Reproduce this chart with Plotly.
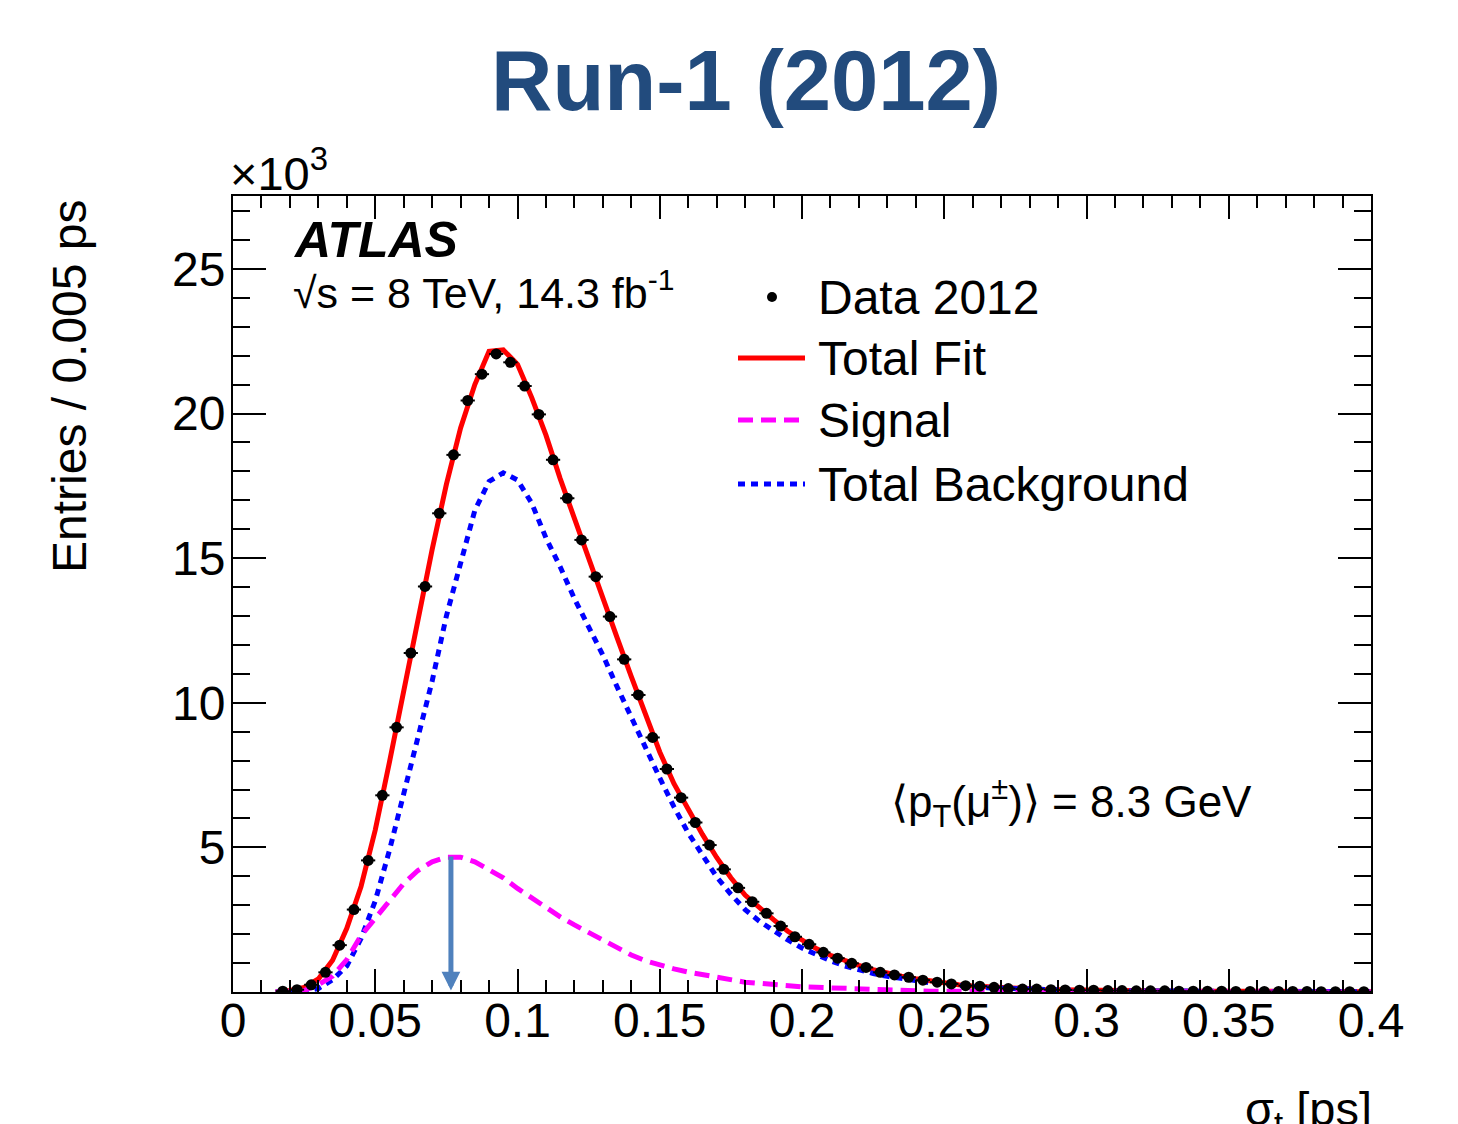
import numpy as np
import plotly.graph_objects as go

# ---------------- data (values in units of 10^3 entries) ----------------
bin_width = 0.005
data_x = [round(0.0175 + i * bin_width, 4) for i in range(77)]
data_y = [0.03, 0.08, 0.25, 0.68, 1.62, 2.85, 4.55, 6.80, 9.15, 11.72,
          14.02, 16.55, 18.57, 20.45, 21.36, 22.06, 21.77, 20.95, 19.97, 18.40,
          17.07, 15.63, 14.36, 12.98, 11.50, 10.27, 8.80, 7.71, 6.72, 5.86,
          5.08, 4.24, 3.60, 3.12, 2.72, 2.28, 1.91, 1.65, 1.37, 1.17,
          0.99, 0.85, 0.68, 0.59, 0.51, 0.41, 0.34, 0.28, 0.22, 0.20,
          0.16, 0.12, 0.10, 0.10, 0.08, 0.07, 0.06, 0.06, 0.05, 0.05,
          0.04, 0.04, 0.04, 0.03, 0.03, 0.03, 0.03, 0.02, 0.02, 0.02,
          0.02, 0.02, 0.02, 0.01, 0.01, 0.01, 0.01]

curve_x = [round(0.015 + i * bin_width, 4) for i in range(78)]
fit_y = [0.00, 0.05, 0.16, 0.45, 1.10, 2.20, 3.65, 5.60, 7.95, 10.45,
         12.90, 15.30, 17.55, 19.50, 21.00, 22.15, 22.20, 21.70, 20.55, 19.25,
         17.75, 16.35, 15.00, 13.65, 12.25, 10.90, 9.55, 8.30, 7.20, 6.30,
         5.45, 4.65, 3.95, 3.35, 2.90, 2.50, 2.10, 1.78, 1.50, 1.27,
         1.08, 0.92, 0.77, 0.64, 0.55, 0.46, 0.38, 0.31, 0.25, 0.21,
         0.18, 0.15, 0.12, 0.10, 0.09, 0.08, 0.07, 0.06, 0.05, 0.05,
         0.04, 0.04, 0.04, 0.03, 0.03, 0.03, 0.03, 0.02, 0.02, 0.02,
         0.02, 0.02, 0.02, 0.02, 0.01, 0.01, 0.01, 0.01]
bkg_y = [0.00, 0.00, 0.01, 0.12, 0.42, 0.90, 1.85, 3.15, 4.90, 6.85,
         8.75, 10.75, 13.00, 14.90, 16.65, 17.65, 17.95, 17.70, 16.90, 15.70,
         14.70, 13.60, 12.65, 11.65, 10.55, 9.45, 8.45, 7.40, 6.40, 5.50,
         4.70, 3.98, 3.38, 2.85, 2.45, 2.10, 1.80, 1.52, 1.28, 1.08,
         0.90, 0.76, 0.64, 0.54, 0.46, 0.39, 0.32, 0.27, 0.22, 0.18,
         0.15, 0.13, 0.11, 0.09, 0.08, 0.07, 0.06, 0.05, 0.04, 0.04,
         0.04, 0.03, 0.03, 0.03, 0.03, 0.02, 0.02, 0.02, 0.02, 0.02,
         0.02, 0.02, 0.01, 0.01, 0.01, 0.01, 0.01, 0.01]
sig_y = [0.00, 0.00, 0.05, 0.25, 0.55, 1.12, 1.95, 2.55, 3.15, 3.75,
         4.20, 4.50, 4.66, 4.66, 4.50, 4.20, 3.95, 3.58, 3.25, 2.92,
         2.60, 2.32, 2.06, 1.78, 1.50, 1.28, 1.08, 0.93, 0.80, 0.69,
         0.60, 0.50, 0.40, 0.34, 0.30, 0.25, 0.21, 0.18, 0.16, 0.14,
         0.12, 0.09, 0.07, 0.06, 0.05, 0.04, 0.03, 0.03, 0.02, 0.02,
         0.02, 0.02, 0.02, 0.02, 0.01, 0.01, 0.01, 0.01, 0.01, 0.01,
         0.01, 0.01, 0.01, 0.00, 0.00, 0.00, 0.00, 0.00, 0.00, 0.00,
         0.00, 0.00, 0.00, 0.00, 0.00, 0.00, 0.00, 0.00]

x_tick_vals = [0, 0.05, 0.1, 0.15, 0.2, 0.25, 0.3, 0.35, 0.4]
y_tick_vals = [5, 10, 15, 20, 25]
mean_sigma = 0.0766     # arrow position (signal peak)
arrow_top = 4.74

legend_names = ["Data 2012", "Total Fit", "Signal", "Total Background"]

# ---------------- figure ----------------
W, H = 1458, 1124
L, R, T, B = 233, 87, 196, 132
FONT = "Liberation Sans, Arial, Helvetica, sans-serif"
RED, MAG, BLUE = "#FF0000", "#FF00FF", "#0000FF"

def px(xp):
    return (xp - L) / (W - L - R)

def py(yp):
    return (H - B - yp) / (H - T - B)

fig = go.Figure()
fig.add_trace(go.Scatter(x=curve_x, y=fit_y, mode="lines", name=legend_names[1],
                         line=dict(color=RED, width=5), showlegend=False))
fig.add_trace(go.Scatter(x=curve_x, y=bkg_y, mode="lines", name=legend_names[3],
                         line=dict(color=BLUE, width=5, dash="7px,6px"), showlegend=False))
fig.add_trace(go.Scatter(x=curve_x, y=sig_y, mode="lines", name=legend_names[2],
                         line=dict(color=MAG, width=5, dash="15px,8px"), showlegend=False))
fig.add_trace(go.Scatter(x=data_x, y=data_y, mode="markers", name=legend_names[0],
                         marker=dict(color="black", size=11),
                         error_x=dict(type="constant", value=bin_width / 2, thickness=2,
                                      width=0, color="black"),
                         showlegend=False))

# arrow at the signal peak
fig.add_annotation(x=mean_sigma, y=0.05, ax=mean_sigma, ay=arrow_top,
                   xref="x", yref="y", axref="x", ayref="y", text="",
                   showarrow=True, arrowhead=2, arrowsize=0.75, arrowwidth=5,
                   arrowcolor="#4F81BD")

ann_font = dict(family=FONT, color="black")
# title
fig.add_annotation(x=px(746), y=py(81), xref="paper", yref="paper",
                   text="<b>Run-1 (2012)</b>", showarrow=False,
                   font=dict(family=FONT, size=85, color="#224B7D"),
                   xanchor="center", yanchor="middle")
# exponent
fig.add_annotation(x=px(228), y=py(170), xref="paper", yref="paper",
                   text="×10<sup>3</sup>", showarrow=False,
                   font=dict(**ann_font, size=47), xanchor="left", yanchor="middle")
# ATLAS label
fig.add_annotation(x=px(291), y=py(240), xref="paper", yref="paper",
                   text="<b><i>ATLAS</i></b>", showarrow=False,
                   font=dict(**ann_font, size=50), xanchor="left", yanchor="middle")
fig.add_annotation(x=px(291), y=py(290), xref="paper", yref="paper",
                   text="√s = 8 TeV, 14.3 fb<sup>-1</sup>", showarrow=False,
                   font=dict(**ann_font, size=43), xanchor="left", yanchor="middle")
fig.add_annotation(x=px(889), y=py(802), xref="paper", yref="paper",
                   text="⟨p<sub>T</sub>(μ<sup>±</sup>)⟩ = 8.3 GeV", showarrow=False,
                   font=dict(**ann_font, size=44), xanchor="left", yanchor="middle")
# axis titles
fig.add_annotation(x=px(1374), y=py(1080), xref="paper", yref="paper",
                   text="σ<sub>t</sub> [ps]", showarrow=False,
                   font=dict(**ann_font, size=47), xanchor="right", yanchor="top")
fig.add_annotation(x=px(69), y=py(386), xref="paper", yref="paper",
                   text="Entries / 0.005 ps", showarrow=False, textangle=-90,
                   font=dict(**ann_font, size=48), xanchor="center", yanchor="middle")

# legend (drawn manually)
rows = [297, 358, 420, 484]
for name, yr in zip(legend_names, rows):
    fig.add_annotation(x=px(816), y=py(yr), xref="paper", yref="paper", text=name,
                       showarrow=False, font=dict(**ann_font, size=48),
                       xanchor="left", yanchor="middle")
fig.add_shape(type="circle", xref="paper", yref="paper", xsizemode="pixel",
              ysizemode="pixel", xanchor=px(772), yanchor=py(rows[0]),
              x0=-5, x1=5, y0=-5, y1=5, fillcolor="black", line=dict(width=0))
styles = [(RED, "solid"), (MAG, "15px,8px"), (BLUE, "7px,6px")]
for (col, dash), yr in zip(styles, rows[1:]):
    fig.add_shape(type="line", xref="paper", yref="paper",
                  x0=px(738), x1=px(805), y0=py(yr), y1=py(yr),
                  line=dict(color=col, width=5, dash=dash))

axis_common = dict(showline=True, linecolor="black", linewidth=2, mirror="allticks",
                   ticks="inside", tickcolor="black", tickwidth=2, showgrid=False,
                   zeroline=False, tickfont=dict(family=FONT, size=48, color="black"))
fig.update_xaxes(range=[0, 0.4], tickmode="array", tickvals=x_tick_vals,
                 ticktext=[f"{v:g}" for v in x_tick_vals], ticklen=23,
                 ticklabelstandoff=-15,
                 minor=dict(tickmode="linear", tick0=0, dtick=0.01, ticklen=12,
                            tickwidth=2, tickcolor="black", ticks="inside"),
                 **axis_common)
fig.update_yaxes(range=[0, 27.52], tickmode="array", tickvals=y_tick_vals,
                 ticktext=[str(v) for v in y_tick_vals], ticklen=33,
                 ticklabelstandoff=-4,
                 minor=dict(tickmode="linear", tick0=0, dtick=1, ticklen=17,
                            tickwidth=2, tickcolor="black", ticks="inside"),
                 **axis_common)

fig.update_layout(width=W, height=H, autosize=False,
                  margin=dict(l=L, r=R, t=T, b=B, pad=0),
                  paper_bgcolor="white", plot_bgcolor="white",
                  font=dict(family=FONT, color="black"), showlegend=False)

fig.write_html("out.html")
